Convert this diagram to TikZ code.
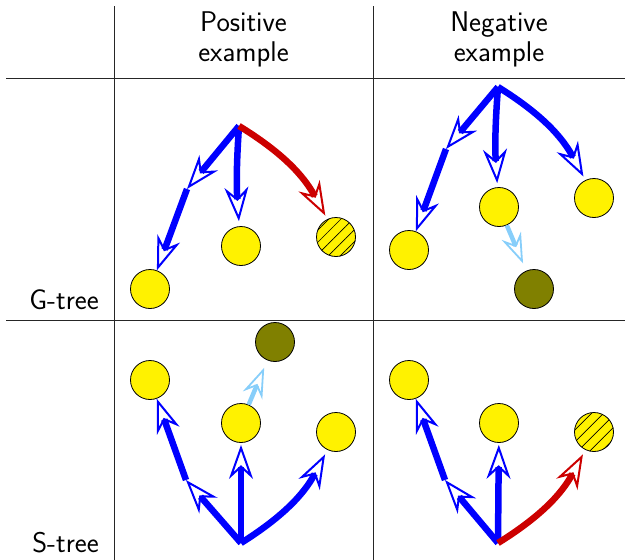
\documentclass[tikz,border=0pt]{standalone}
\usetikzlibrary{arrows.meta,patterns.meta}
\definecolor{treeblue}{RGB}{0,0,255}
\definecolor{treered}{RGB}{204,0,0}
\definecolor{skyarrow}{RGB}{135,206,250}
\definecolor{olivedark}{RGB}{128,128,0}
\tikzset{
    gridline/.style={black!85,line width=0.9pt},
    lbl/.style={font=\sffamily\fontsize{28.5}{30}\selectfont,align=center,inner sep=0pt},
    leaf/.style={circle,draw=black,fill=yellow,line width=0.8pt,minimum size=39pt,inner sep=0pt},
    covered/.style={leaf,fill=olivedark},
    hatched/.style={leaf,postaction={pattern={Lines[angle=45,distance=8.5pt,line width=0.7pt]},pattern color=black}},
    treearrow/.style={line width=6.5pt,-{Stealth[open,length=34pt,width=24pt,inset=11pt,line width=2pt]}},
    gedge/.style={treearrow,treeblue},
    redge/.style={treearrow,treered},
    sedge/.style={skyarrow,line width=4.5pt,-{Stealth[open,length=30pt,width=21pt,inset=10pt,line width=1.8pt]}}
}
\begin{document}
\begin{tikzpicture}[x=1pt,y=-1pt]
    \useasboundingbox (0,0) rectangle (625,560);
    \draw[gridline] (114,6) -- (114,560);
    \draw[gridline] (373,6) -- (373,560);
    \draw[gridline] (6,78) -- (625,78);
    \draw[gridline] (6,320) -- (625,320);

    \node[lbl] (pos) at (243.5,39) {Positive\\example};
    \node[lbl] (neg) at (499,39) {Negative\\example};
    \node[lbl,anchor=base east] (gtree) at (99,309) {G-tree};
    \node[lbl,anchor=base east] (stree) at (99,552) {S-tree};

    % G-tree, positive example
    \coordinate (pgroot) at (239,126);
    \coordinate (pgmid) at (187,189);
    \node[leaf] (pga) at (150,289) {};
    \node[leaf] (pgb) at (241,246) {};
    \node[hatched] (pgc) at (336,237) {};
    \draw[gedge] (pgroot) -- (pgmid);
    \draw[gedge] (pgmid) -- (pga);
    \draw[gedge,shorten >=5pt] (pgroot) to[bend right=4] (pgb);
    \draw[redge,shorten >=4pt] (pgroot) to[bend left=15] (pgc);

    % G-tree, negative example
    \coordinate (ngroot) at (498,87);
    \coordinate (ngmid) at (446,149);
    \node[leaf] (nga) at (409,250) {};
    \node[leaf] (ngb) at (499,207) {};
    \node[leaf] (ngc) at (594,198) {};
    \node[covered] (ngd) at (534,289) {};
    \draw[gedge] (ngroot) -- (ngmid);
    \draw[gedge] (ngmid) -- (nga);
    \draw[gedge,shorten >=4pt] (ngroot) to[bend right=4] (ngb);
    \draw[gedge,shorten >=4pt] (ngroot) to[bend left=15] (ngc);
    \draw[sedge,shorten >=8pt] (ngb) -- (ngd);

    % S-tree, positive example
    \coordinate (psroot) at (241,543);
    \coordinate (psmid) at (186,480);
    \node[leaf] (psa) at (150,380) {};
    \node[leaf] (psb) at (241,423) {};
    \node[leaf] (psc) at (336,432) {};
    \node[covered] (psd) at (275,342) {};
    \draw[gedge] (psroot) -- (psmid);
    \draw[gedge] (psmid) -- (psa);
    \draw[gedge,shorten >=2pt] (psroot) -- (psb);
    \draw[gedge,shorten >=5pt] (psroot) to[bend right=15] (psc);
    \draw[sedge,shorten >=8pt] (psb) -- (psd);

    % S-tree, negative example
    \coordinate (nsroot) at (498,543);
    \coordinate (nsmid) at (445,480);
    \node[leaf] (nsa) at (409,380) {};
    \node[leaf] (nsb) at (499,423) {};
    \node[hatched] (nsc) at (594,432) {};
    \draw[gedge] (nsroot) -- (nsmid);
    \draw[gedge] (nsmid) -- (nsa);
    \draw[gedge,shorten >=2pt] (nsroot) -- (nsb);
    \draw[redge,shorten >=5pt] (nsroot) to[bend right=15] (nsc);
\end{tikzpicture}
\end{document}
